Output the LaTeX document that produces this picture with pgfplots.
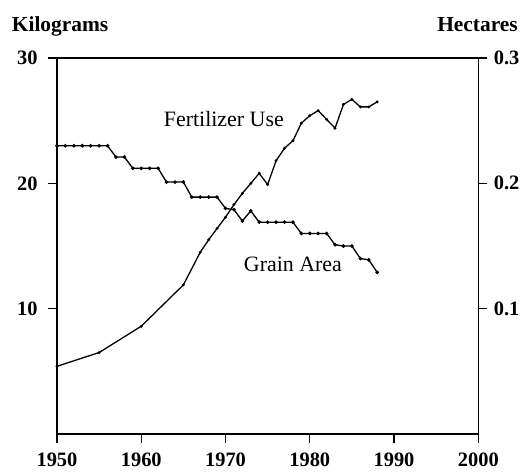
\documentclass[border=0pt]{standalone}
\usepackage{pgfplots}
\pgfplotsset{compat=1.18}
\usepackage{fontspec}
\setmainfont{Liberation Serif}
\begin{document}
\begin{tikzpicture}
\pgfplotsset{
  common/.style={
    scale only axis, width=421.3bp, height=376bp,
    xmin=1950, xmax=2000,
    tick align=outside,
    major tick length=9bp,
    axis line style={line width=1.2bp},
    every tick/.style={line width=1.2bp, black},
    tick label style={font=\fontsize{20.5}{24}\selectfont\bfseries},
    /pgf/number format/assume math mode=true,
    /pgf/number format/1000 sep={},
    clip=false,
  }
}
\begin{axis}[common,
  ymin=0, ymax=30,
  xtick={1950,1960,...,2000},
  ytick={10,20,30},
  tick pos=left,
  xticklabel style={yshift=-6bp},
  yticklabel style={xshift=-7bp},
]
\addplot[black, line width=1.3bp, mark=*, mark size=0.7bp] coordinates {
(1950,5.4) (1955,6.5) (1960,8.6) (1965,11.9) (1967,14.5) (1968,15.5)
(1969,16.4) (1970,17.3) (1971,18.3) (1972,19.2) (1973,20.0) (1974,20.8)
(1975,19.9) (1976,21.8) (1977,22.8) (1978,23.4) (1979,24.8) (1980,25.4)
(1981,25.8) (1982,25.1) (1983,24.4) (1984,26.3) (1985,26.7) (1986,26.1)
(1987,26.1) (1988,26.5)
};
\node[font=\fontsize{22}{26}\selectfont] at (axis cs:1969.8,25.1) {Fertilizer Use};
\node[font=\fontsize{22}{26}\selectfont] at (axis cs:1978.0,13.5) {Grain Area};
\node[font=\fontsize{21.5}{26}\selectfont\bfseries, anchor=base west, inner sep=0pt] at (rel axis cs:-0.1075,1.0718) {Kilograms};
\node[font=\fontsize{21.5}{26}\selectfont\bfseries, anchor=base east, inner sep=0pt] at (rel axis cs:1.0942,1.0718) {Hectares};
\path (rel axis cs:-0.1353,-0.0984) -- (rel axis cs:1.1085,1.1543);
\end{axis}
\begin{axis}[common,
  ymin=0, ymax=0.3,
  axis x line=none,
  axis y line*=right,
  ytick={0.1,0.2,0.3},
  yticklabel style={/pgf/number format/fixed, /pgf/number format/precision=1, xshift=3bp},
]
\addplot[black, line width=1.3bp, mark=*, mark size=1.1bp] coordinates {
(1950,0.230) (1951,0.230) (1952,0.230) (1953,0.230) (1954,0.230) (1955,0.230)
(1956,0.230) (1957,0.221) (1958,0.221) (1959,0.212) (1960,0.212) (1961,0.212)
(1962,0.212) (1963,0.201) (1964,0.201) (1965,0.201) (1966,0.189) (1967,0.189)
(1968,0.189) (1969,0.189) (1970,0.180) (1971,0.179) (1972,0.170) (1973,0.178)
(1974,0.169) (1975,0.169) (1976,0.169) (1977,0.169) (1978,0.169) (1979,0.160)
(1980,0.160) (1981,0.160) (1982,0.160) (1983,0.151) (1984,0.150) (1985,0.150)
(1986,0.140) (1987,0.139) (1988,0.129)
};
\end{axis}
\end{tikzpicture}
\end{document}
